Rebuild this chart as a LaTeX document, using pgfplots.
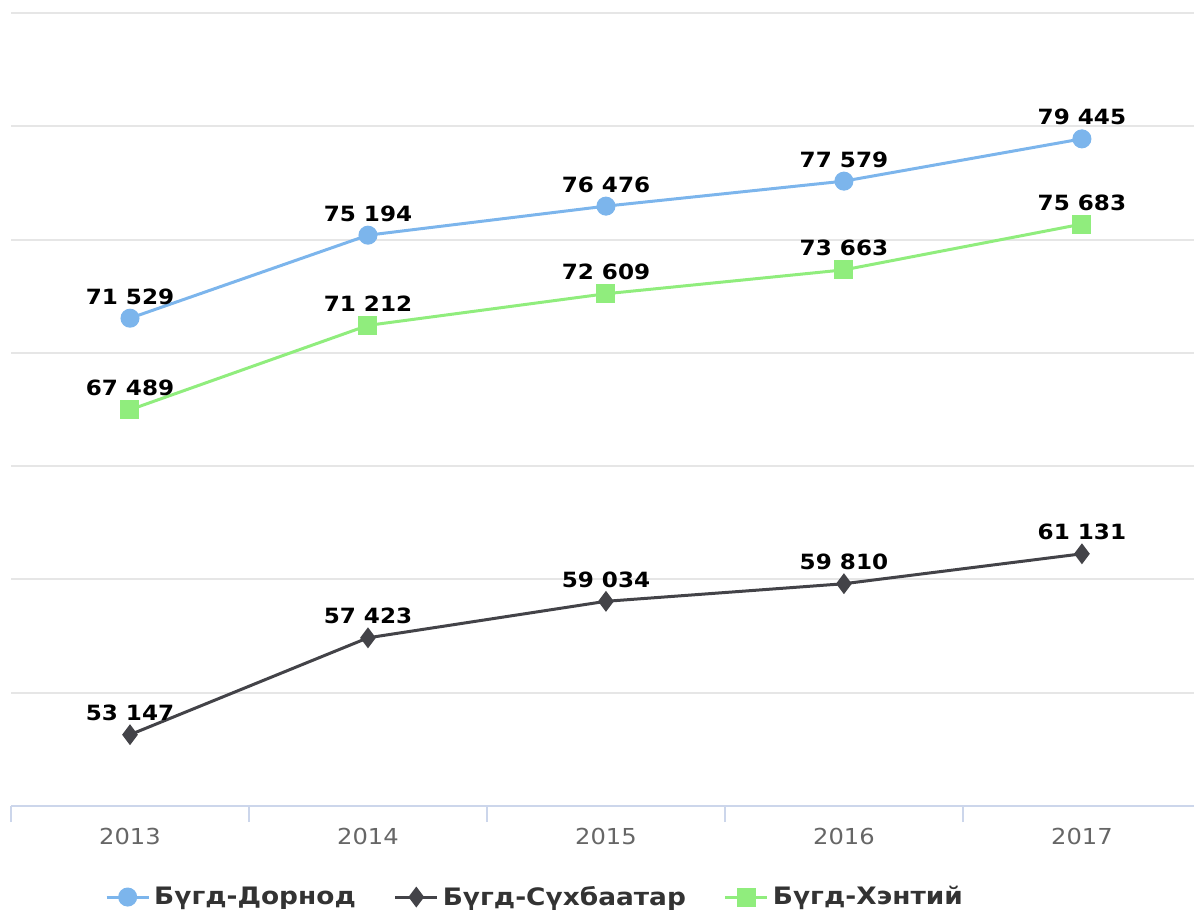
\documentclass[border=0pt]{standalone}
\usepackage{fontspec}
\setmainfont{DejaVu Sans}[FakeStretch=1.1]
\usepackage{pgfplots}
\pgfplotsset{compat=1.18}
\definecolor{sdornod}{HTML}{7CB5EC}
\definecolor{ssukh}{HTML}{434348}
\definecolor{skhent}{HTML}{90ED7D}
\definecolor{gridc}{HTML}{E6E6E6}
\definecolor{axisc}{HTML}{CCD6EB}
\definecolor{tickl}{HTML}{666666}
\definecolor{legt}{HTML}{333333}

\begin{document}
\begin{tikzpicture}
\begin{axis}[
  at={(0,0)}, anchor=south west,
  scale only axis,
  width=591.5pt, height=396.5pt,
  xmin=-0.5, xmax=4.471,
  ymin=50000, ymax=85000,
  ytick={50000,55000,...,85000},
  yticklabels={,,,,,,,},
  ymajorgrids,
  grid style={draw=gridc, line width=1pt},
  axis x line*=bottom,
  x axis line style={draw=axisc, line width=1pt, -},
  y axis line style={draw=none},
  ytick style={draw=none},
  xtick={0,1,2,3,4},
  xticklabels={2013,2014,2015,2016,2017},
  major x tick style={draw=none},
  major tick length=0pt,
  minor xtick={-0.5,0.5,1.5,2.5,3.5,4.5},
  minor x tick style={draw=axisc, line width=1pt},
  minor tick length=8pt,
  tick align=outside,
  xticklabel style={font=\fontsize{11}{13}\selectfont, text=tickl, anchor=base, yshift=-19pt, inner sep=0pt},
  every node near coord/.append style={font=\bfseries\fontsize{10.5}{12}\selectfont, text=black, anchor=base, yshift=7pt, inner sep=0pt},
  legend columns=3,
  legend style={at={(0.4438,-0.1148)}, anchor=center, draw=none, fill=none,
    font=\bfseries\fontsize{12}{14}\selectfont, text=legt,
    /tikz/every even column/.append style={column sep=17pt}},
  legend image code/.code={\draw[mark repeat=2, mark phase=2] plot coordinates {(0pt,0pt) (10.5pt,0pt) (21pt,0pt)};},
]
\addplot[sdornod, line width=1.5pt, mark=*, mark size=4pt, mark options={solid, fill=sdornod},
  nodes near coords, point meta=explicit symbolic]
  coordinates {(0,71529) [71 529] (1,75194) [75 194] (2,76476) [76 476] (3,77579) [77 579] (4,79445) [79 445]};
\addlegendentry{Бүгд-Дорнод}
\addplot[ssukh, line width=1.5pt, mark=diamond*, mark size=4pt, mark options={solid, fill=ssukh},
  nodes near coords, point meta=explicit symbolic]
  coordinates {(0,53147) [53 147] (1,57423) [57 423] (2,59034) [59 034] (3,59810) [59 810] (4,61131) [61 131]};
\addlegendentry{Бүгд-Сүхбаатар}
\addplot[skhent, line width=1.5pt, mark=square*, mark size=4pt, mark options={solid, fill=skhent},
  nodes near coords, point meta=explicit symbolic]
  coordinates {(0,67489) [67 489] (1,71212) [71 212] (2,72609) [72 609] (3,73663) [73 663] (4,75683) [75 683]};
\addlegendentry{Бүгд-Хэнтий}
\end{axis}
\pgfresetboundingbox
\path[use as bounding box] (-5.5pt,-52pt) rectangle (591.5pt,403pt);
\end{tikzpicture}
\end{document}
